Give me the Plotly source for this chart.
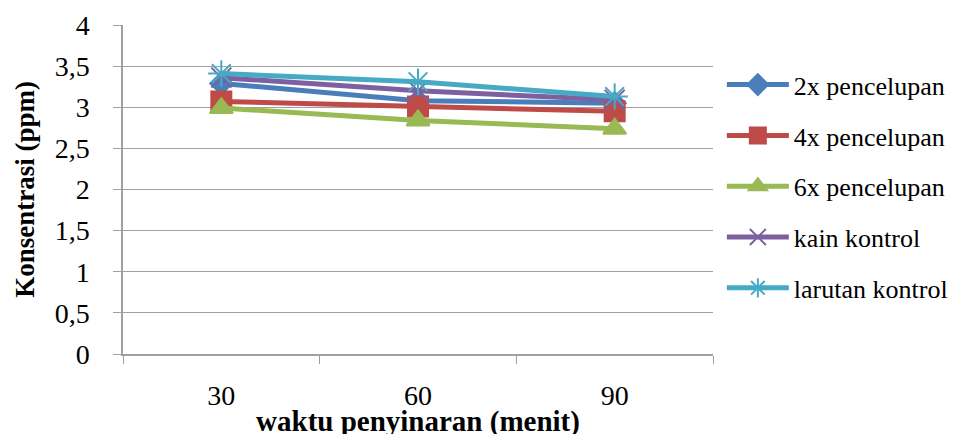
import plotly.graph_objects as go

waktu = ["30", "60", "90"]
series_names = ["2x pencelupan", "4x pencelupan", "6x pencelupan", "kain kontrol", "larutan kontrol"]
v_2x = [3.29, 3.08, 3.05]
v_4x = [3.07, 3.01, 2.95]
v_6x = [2.99, 2.84, 2.74]
v_kain = [3.36, 3.20, 3.09]
v_larutan = [3.41, 3.31, 3.13]
y_ticks = [0, 0.5, 1, 1.5, 2, 2.5, 3, 3.5, 4]

values = [v_2x, v_4x, v_6x, v_kain, v_larutan]
colors = ["#4A7EBB", "#BE4B48", "#98B954", "#7D60A0", "#46AAC5"]
symbols = ["diamond", "square", "triangle-up", "x-thin-open", "asterisk-open"]
sizes = [17, 20, 20, 20, 22]

fig = go.Figure()
for i, (name, vals) in enumerate(zip(series_names, values)):
    fig.add_trace(go.Scatter(
        x=waktu, y=vals, name=name, mode="lines+markers",
        legendgroup=f"g{i}",
        line=dict(color=colors[i], width=5),
        marker=dict(symbol=symbols[i], size=sizes[i], color=colors[i],
                    line=dict(color=colors[i], width=2)),
    ))

ff = "Times New Roman"
fig.update_layout(
    width=965, height=430,
    margin=dict(l=115, r=260, t=17, b=84, autoexpand=False),
    plot_bgcolor="white", paper_bgcolor="white",
    separators=",.",
    font=dict(family=ff, color="black", size=26),
    showlegend=True,
    legend=dict(x=1.015, y=0.89, xanchor="left", yanchor="top",
                font=dict(size=26, family=ff),
                itemwidth=62, tracegroupgap=14, bgcolor="rgba(0,0,0,0)"),
    xaxis=dict(
        type="category", range=[-0.5, 2.5], tickson="boundaries",
        ticks="outside", ticklen=8,
        tickcolor="#A0A0A0", showline=True, linecolor="#A0A0A0", linewidth=1.5,
        showgrid=False, ticklabelstandoff=16, automargin=False,
        tickfont=dict(size=28, family=ff),
        title=dict(text="<b>waktu penyinaran (menit)</b>", standoff=6,
                   font=dict(size=29, family=ff)),
    ),
    yaxis=dict(
        range=[0, 4], tickvals=y_ticks, ticks="outside", ticklen=8,
        tickcolor="#A0A0A0", showline=True, linecolor="#A0A0A0", linewidth=1.5,
        showgrid=True, gridcolor="#A0A0A0", gridwidth=1.2, zeroline=False,
        automargin=False, ticklabelstandoff=18,
        tickfont=dict(size=28, family=ff),
        title=dict(text="<b>Konsentrasi (ppm)</b>", standoff=12,
                   font=dict(size=27, family=ff)),
    ),
)

fig.write_html("out.html")
